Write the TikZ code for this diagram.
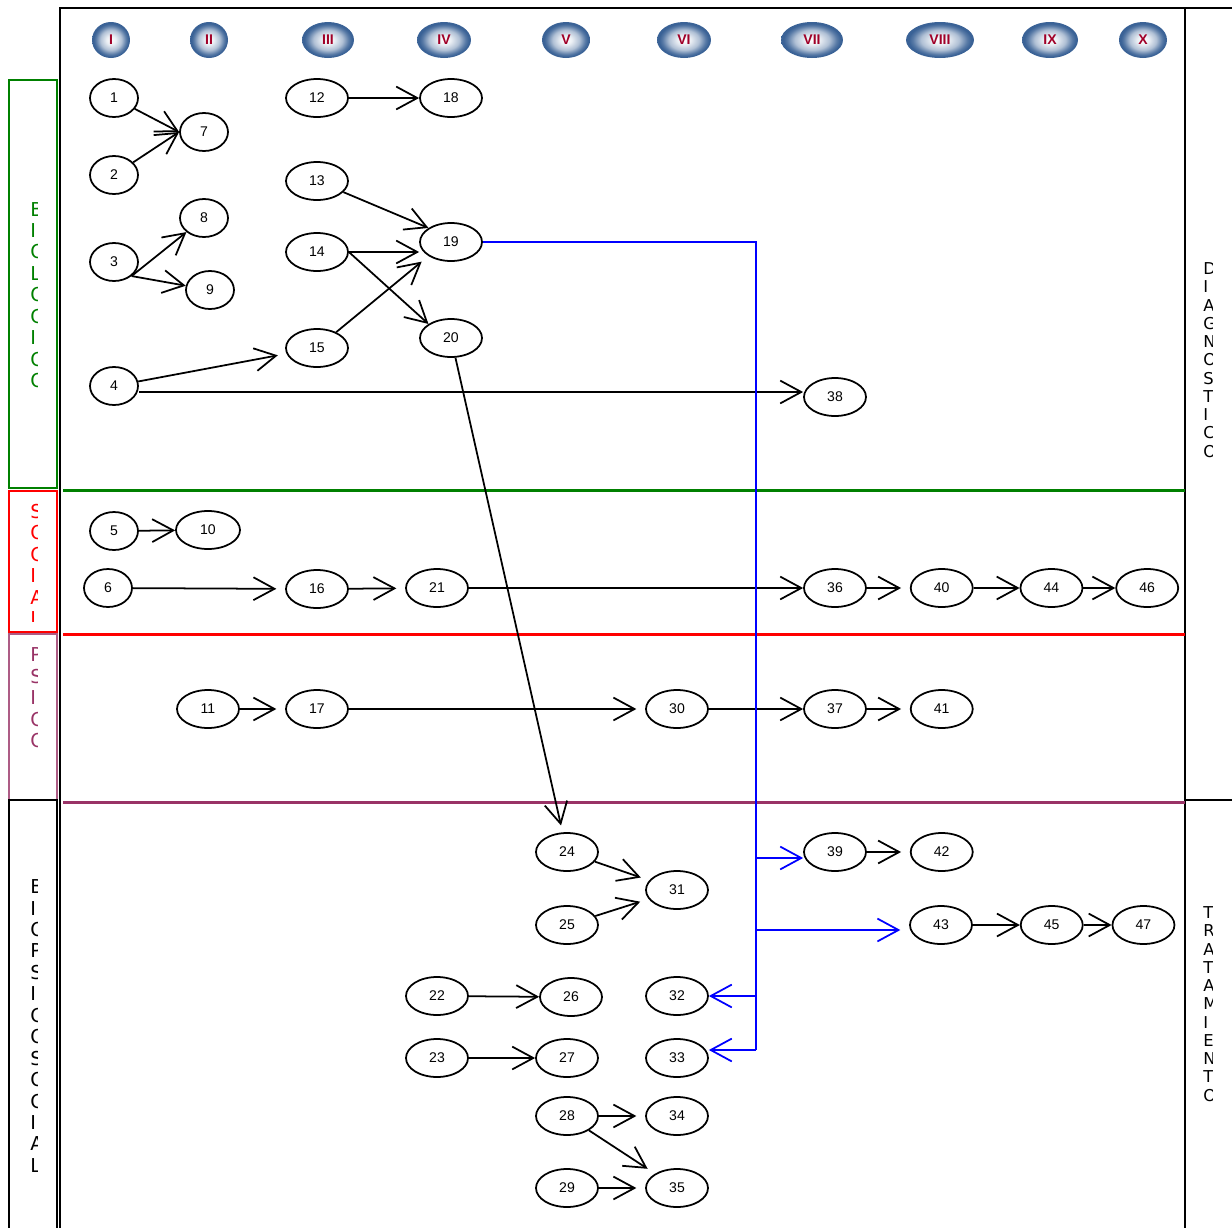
\documentclass[tikz,border=0pt]{standalone}
\usepackage{fontspec}
\setmainfont{Liberation Sans}
\newfontfamily\sidefont{DejaVu Sans}
\usetikzlibrary{arrows.meta, positioning, shapes.geometric}

\definecolor{bioGreen}{RGB}{0,128,0}
\definecolor{psiPurple}{RGB}{153,51,102}
\definecolor{stageBlue}{RGB}{58,98,150}
\definecolor{stageRed}{RGB}{160,0,40}

\pgfdeclareradialshading{stageshade}{\pgfpoint{0bp}{0bp}}{%
  color(0bp)=(white); color(6bp)=(white!90!stageBlue); color(14bp)=(white!60!stageBlue);
  color(20bp)=(stageBlue!85!white); color(23bp)=(stageBlue); color(50bp)=(stageBlue)}

\begin{document}
\begin{tikzpicture}[x=0.02cm, y=-0.02cm, >={Straight Barb[length=12pt,width=13pt]}]

  % Define styles
  \tikzstyle{stage} = [ellipse, inner sep=0pt, minimum height=0.72cm, shading=stageshade, text=stageRed, font=\bfseries\fontsize{8}{9}\selectfont]
  \tikzstyle{item} = [ellipse, draw, line width=1pt, inner sep=0pt, minimum width=1.24cm, minimum height=0.76cm, font=\fontsize{8}{9}\selectfont]
  \tikzstyle{small_item} = [item, minimum width=0.96cm]
  \tikzstyle{flow} = [->, line width=1pt]
  \tikzstyle{gap_flow} = [flow, shorten >=5pt]
  \tikzstyle{blue_flow} = [->, draw=blue, line width=1pt]
  \tikzstyle{side_text} = [align=left, inner sep=0pt, anchor=west, font=\sidefont\fontsize{10.9}{12.2}\selectfont]
  \tikzstyle{right_text} = [align=left, inner sep=0pt, anchor=west, font=\sidefont\fontsize{9.3}{10.4}\selectfont]

  \useasboundingbox (0,0) rectangle (1232,1228);

  % Frame
  \draw[line width=1pt] (60,1228) -- (60,8) -- (1232,8);
  \draw[line width=1pt] (1185,8) -- (1185,1228);
  \draw[line width=0.8pt] (1185,800) -- (1232,800);

  % Left boxes
  \draw[bioGreen, line width=0.8pt] (9,80) rectangle (57,488);
  \draw[red, line width=0.8pt] (9,491) rectangle (57,632);
  \draw[psiPurple!80, line width=0.8pt] (9,634) rectangle (57,800);
  \draw[line width=0.8pt] (9,1228) -- (9,800) -- (57,800) -- (57,1228);

  % Separators
  \draw[bioGreen, line width=1.7pt] (63,490) -- (1185,490);
  \draw[red, line width=1.7pt] (63,634) -- (1185,634);
  \draw[psiPurple, line width=1.7pt] (63,802) -- (1185,802);

  % Side labels
  \begin{scope}
    \clip (10,81) rectangle (37,487);
    \node[side_text, text=bioGreen] (lbio) at (30,295) {B\\I\\O\\L\\O\\G\\I\\C\\O};
  \end{scope}
  \begin{scope}
    \clip (10,492) rectangle (37,621);
    \node[side_text, text=red] (lsoc) at (30,565) {S\\O\\C\\I\\A\\L};
  \end{scope}
  \begin{scope}
    \clip (10,635) rectangle (37,799);
    \node[side_text, text=psiPurple] (lpsi) at (30,698) {P\\S\\I\\C\\O};
  \end{scope}
  \begin{scope}
    \clip (10,801) rectangle (37,1228);
    \node[side_text] (lbps) at (30,1026) {B\\I\\O\\P\\S\\I\\C\\O\\S\\O\\C\\I\\A\\L};
  \end{scope}
  \begin{scope}
    \clip (1190,10) rectangle (1212,798);
    \node[right_text] (ldia) at (1203,360) {D\\I\\A\\G\\N\\O\\S\\T\\I\\C\\O};
  \end{scope}
  \begin{scope}
    \clip (1190,802) rectangle (1212,1228);
    \node[right_text] (ltra) at (1203,1004) {T\\R\\A\\T\\A\\M\\I\\E\\N\\T\\O};
  \end{scope}

  % Stages
  \node[stage, minimum width=0.76cm] (s1) at (111,40) {I};
  \node[stage, minimum width=0.76cm] (s2) at (209,40) {II};
  \node[stage, minimum width=1.04cm] (s3) at (328,40) {III};
  \node[stage, minimum width=1.08cm] (s4) at (444,40) {IV};
  \node[stage, minimum width=0.96cm] (s5) at (566,40) {V};
  \node[stage, minimum width=1.08cm] (s6) at (684,40) {VI};
  \node[stage, minimum width=1.24cm] (s7) at (812,40) {VII};
  \node[stage, minimum width=1.36cm] (s8) at (940,40) {VIII};
  \node[stage, minimum width=1.12cm] (s9) at (1050,40) {IX};
  \node[stage, minimum width=0.96cm] (s10) at (1143,40) {X};

  % Biologico
  \node[small_item] (n1) at (114,98) {1};
  \node[small_item] (n2) at (114,175) {2};
  \node[small_item] (n3) at (114,262) {3};
  \node[small_item] (n4) at (114,386) {4};
  \node[small_item] (n7) at (204,132) {7};
  \node[small_item] (n8) at (204,218) {8};
  \node[small_item] (n9) at (210,290) {9};
  \node[item] (n12) at (317,98) {12};
  \node[item] (n13) at (317,181) {13};
  \node[item] (n14) at (317,252) {14};
  \node[item] (n15) at (317,348) {15};
  \node[item] (n18) at (451,98) {18};
  \node[item] (n19) at (451,242) {19};
  \node[item] (n20) at (451,338) {20};
  \node[item] (n38) at (835,397) {38};

  \draw[flow] (n1) -- (n7.west);
  \draw[flow] (n2) -- (n7.west);
  \draw[flow] (n3.south east) -- (n8);
  \draw[flow] (n3.south east) -- (n9);
  \draw[gap_flow] (n4) -- (n15);
  \draw[flow] ([yshift=-0.12cm]n4.east) -- ([yshift=-0.12cm]n4.east -| n38.west);
  \draw[flow] (n12) -- (n18);
  \draw[flow] (n13) -- (n19.north west);
  \draw[flow] (n14.east) -- (n14.east -| n19.west);
  \draw[flow] (n14.east) -- (n20.north west);
  \draw[gap_flow] (n15) -- (n19.south west);

  % Social
  \node[small_item] (n5) at (114,531) {5};
  \node[item, minimum width=1.28cm] (n10) at (208,530) {10};
  \node[small_item] (n6) at (108,588) {6};
  \node[item] (n16) at (317,589) {16};
  \node[item] (n21) at (437,588) {21};
  \node[item] (n36) at (835,588) {36};
  \node[item] (n40) [right=0.86cm of n36] {40};
  \node[item] (n44) [right=0.92cm of n40] {44};
  \node[item] (n46) [right=0.64cm of n44] {46};

  \draw[flow] (n5) -- (n10);
  \draw[gap_flow] (n6) -- (n16);
  \draw[gap_flow] (n16) -- (n21);
  \draw[flow] (n21) -- (n36);
  \draw[gap_flow] (n36) -- (n40);
  \draw[flow] (n40) -- (n44);
  \draw[flow] (n44) -- (n46);

  % Psico
  \node[item] (n11) at (208,709) {11};
  \node[item] (n17) at (317,709) {17};
  \node[item] (n30) at (677,709) {30};
  \node[item] (n37) at (835,709) {37};
  \node[item] (n41) [right=0.86cm of n37] {41};

  \draw[gap_flow] (n11) -- (n17);
  \draw[gap_flow] (n17) -- (n30);
  \draw[flow] (n30) -- (n37);
  \draw[gap_flow] (n37) -- (n41);

  % Biopsicosocial
  \node[item] (n24) at (567,852) {24};
  \node[item] (n25) at (567,925) {25};
  \node[item] (n31) at (677,890) {31};
  \node[item] (n22) at (437,996) {22};
  \node[item] (n26) at (571,997) {26};
  \node[item] (n32) at (677,996) {32};
  \node[item] (n23) at (437,1058) {23};
  \node[item] (n27) at (567,1058) {27};
  \node[item] (n33) at (677,1058) {33};
  \node[item] (n28) at (567,1116) {28};
  \node[item] (n34) at (677,1116) {34};
  \node[item] (n29) at (567,1188) {29};
  \node[item] (n35) at (677,1188) {35};
  \node[item] (n39) at (835,852) {39};
  \node[item] (n42) [right=0.86cm of n39] {42};
  \node[item] (n43) at (941,925) {43};
  \node[item] (n45) [right=0.94cm of n43] {45};
  \node[item] (n47) [right=0.56cm of n45] {47};

  \draw[flow, shorten >=4pt] (n20) -- (n24);
  \draw[gap_flow] (n24) -- (n31);
  \draw[gap_flow] (n25) -- (n31);
  \draw[flow] (n22) -- (n26);
  \draw[flow] (n23) -- (n27);
  \draw[gap_flow] (n28) -- (n34);
  \draw[gap_flow] (n28) -- (n35);
  \draw[gap_flow] (n29) -- (n35);
  \draw[gap_flow] (n39) -- (n42);
  \draw[flow] (n43) -- (n45);
  \draw[flow] (n45) -- (n47);

  % Blue branch from 19
  \coordinate (b1) at (756,858);
  \coordinate (b2) at (756,930);
  \coordinate (b3) at (756,996);
  \coordinate (b4) at (756,1050);

  \draw[blue, line width=1pt] (n19.east) -| (b4);
  \draw[blue_flow] (b1) -- (b1 -| n39.west);
  \draw[blue_flow, shorten >=5pt] (b2) -- (b2 -| n43.west);
  \draw[blue_flow] (b3) -- (n32);
  \draw[blue_flow] (b4) -- (b4 -| n33.east);

\end{tikzpicture}
\end{document}
